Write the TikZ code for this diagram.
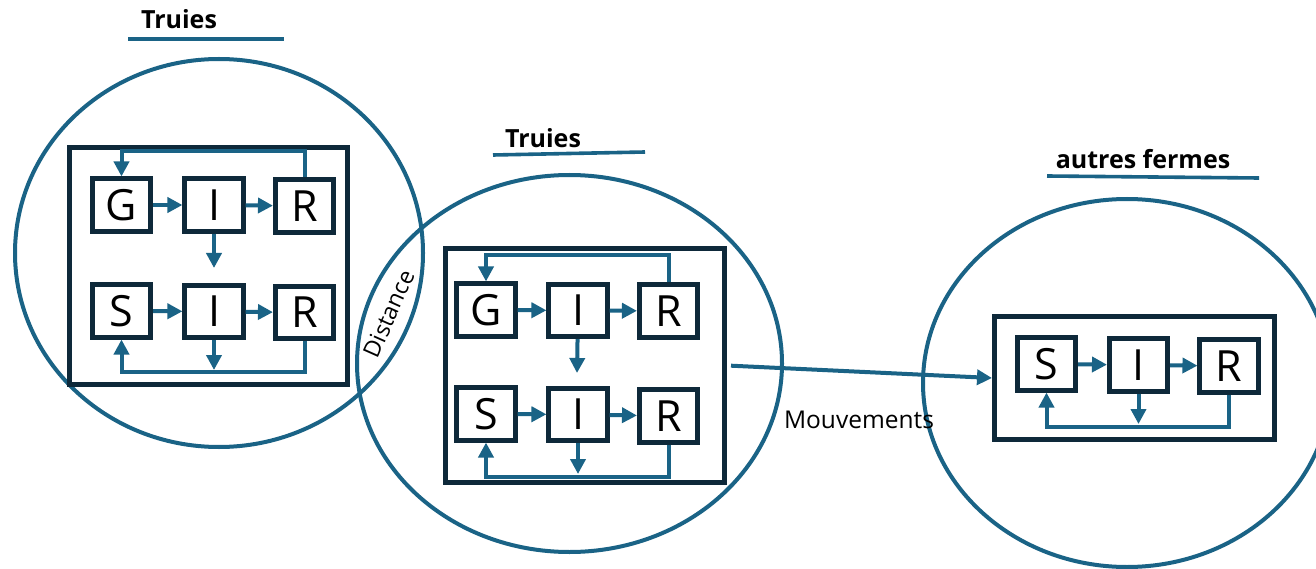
\documentclass[tikz,border=0pt]{standalone}
\usepackage{fontspec}
\setmainfont{Open Sans}
\usetikzlibrary{arrows.meta}
\definecolor{zoneteal}{RGB}{26,99,134}
\definecolor{framenavy}{RGB}{14,41,58}

\begin{document}
\begin{tikzpicture}[x=1pt,y=-1pt,
  zone/.style={draw=zoneteal, line width=4pt},
  frame/.style={draw=framenavy, line width=5pt, fill=white, inner sep=0pt},
  comp/.style={draw=framenavy, line width=4.6pt, fill=white, minimum width=58.5pt,
    minimum height=52.5pt, inner sep=0pt, font=\fontsize{43}{43}\selectfont},
  flow/.style={draw=zoneteal, line width=4pt, -{Triangle[length=15pt,width=15pt]}},
  heading/.style={font=\fontsize{25}{25}\selectfont\bfseries},
  underline/.style={draw=zoneteal, line width=3.6pt},
  caption/.style={font=\fontsize{24.5}{24.5}\selectfont}
]
\useasboundingbox (0,0) rectangle (1316,569);

% farm zones
\draw[zone] (219,253) ellipse [x radius=204, y radius=194];
\draw[zone] (569.5,363.5) ellipse [x radius=212.5, y radius=188.5];
\draw[zone] (1127,383) ellipse [x radius=204, y radius=184];

% headings
\node[heading] (t1) at (179,19) {Truies};
\draw[underline] (128,39) -- (284,39);
\node[heading] (t2) at (543,138) {Truies};
\draw[underline] (493,155) -- (645,152);
\node[heading] (t3) at (1143,159) {autres fermes};
\draw[underline] (1047,176) -- (1259,178);

% ---------- first farm: G-I-R over S-I-R ----------
\node[frame, minimum width=278pt, minimum height=237pt] (aF) at (208.5,266) {};
\node[comp] (aG) at (121.5,205) {G};
\node[comp] (aI) at (214,205) {I};
\node[comp] (aR) at (304.5,206) {R};
\node[comp] (aS) at (121.5,311) {S};
\node[comp] (aJ) at (214,311.5) {I};
\node[comp] (aQ) at (304.5,312.5) {R};
\coordinate (aM) at (214,268);
\coordinate (aB) at (214,370);
\draw[flow] (aG) -- (aI);
\draw[flow] (aI) -- (aR);
\draw[flow] (aR.north) -- ++(0,-26.5) -| (aG.north);
\draw[flow] (aI) -- (aM);
\draw[flow] (aS) -- (aJ);
\draw[flow] (aJ) -- (aQ);
\draw[flow] (aQ.south) -- ++(0,31) -| (aS.south);
\draw[flow] (aJ) -- (aB);

% ---------- second farm ----------
\node[frame, minimum width=279pt, minimum height=234pt] (bF) at (585,365.5) {};
\node[comp] (bG) at (486,310) {G};
\node[comp] (bI) at (578,310.5) {I};
\node[comp] (bR) at (668.5,311) {R};
\node[comp] (bS) at (486,414) {S};
\node[comp] (bJ) at (578,414.5) {I};
\node[comp] (bQ) at (668.5,416) {R};
\coordinate (bM) at (577,373);
\coordinate (bB) at (578,474);
\draw[flow] (bG) -- (bI);
\draw[flow] (bI) -- (bR);
\draw[flow] (bR.north) -- ++(0,-27.5) -| (bG.north);
\draw[flow] (bI) -- (bM);
\draw[flow] (bS) -- (bJ);
\draw[flow] (bJ) -- (bQ);
\draw[flow] (bQ.south) -- ++(0,32.5) -| (bS.south);
\draw[flow] (bJ) -- (bB);

% ---------- other farms: S-I-R ----------
\node[frame, minimum width=280pt, minimum height=123pt] (cF) at (1134.5,378) {};
\node[comp] (cS) at (1046.5,364) {S};
\node[comp] (cI) at (1138.5,365) {I};
\node[comp] (cR) at (1229,366) {R};
\coordinate (cB) at (1138.5,424);
\draw[flow] (cS) -- (cI);
\draw[flow] (cI) -- (cR);
\draw[flow] (cR.south) -- ++(0,32.5) -| (cS.south);
\draw[flow] (cI) -- (cB);

% movements between farms
\draw[flow, shorten <=4pt] (bF.east) -- (cF.west);
\node[caption] (mv) at (859,419.5) {Mouvements};

% distance between neighbouring farms
\node[font=\fontsize{23}{23}\selectfont, rotate=66, inner sep=0pt] (dist) at (389,314) {Distance};
\end{tikzpicture}
\end{document}
